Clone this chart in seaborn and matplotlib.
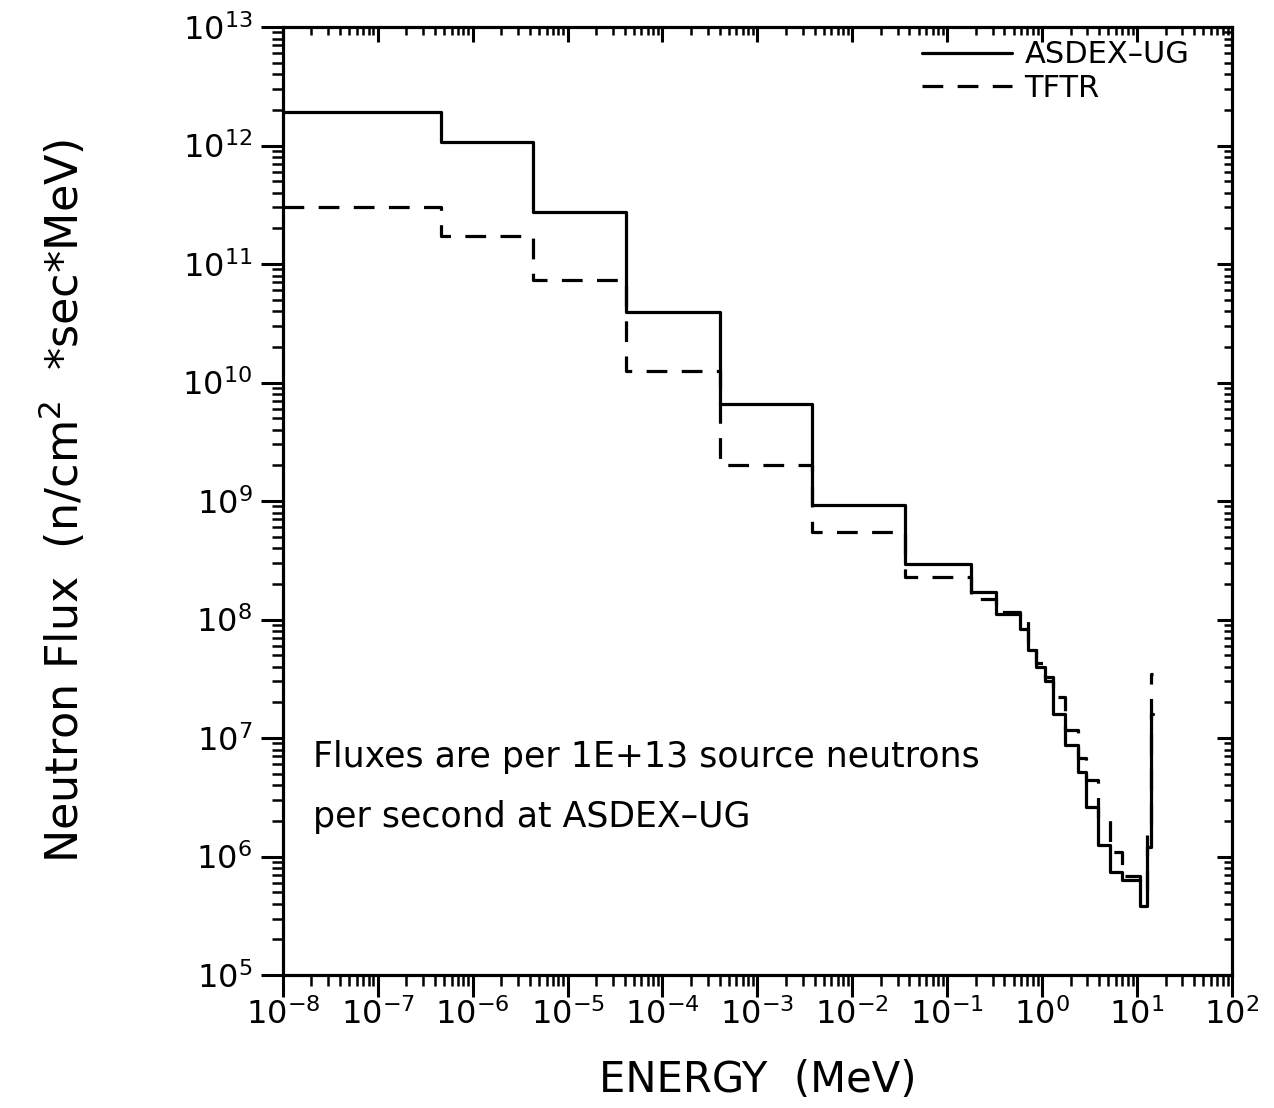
import matplotlib
matplotlib.use("Agg")
import matplotlib.pyplot as plt
import matplotlib.ticker as mticker
import numpy as np
import pandas as pd
import seaborn as sns

# --- Data --------------------------------------------------------------------
# Group boundaries in MeV (steps-post: last edge closes the last group)
energy_edges = [1e-8, 4.6e-7, 4.3e-6, 4.1e-5, 4.0e-4, 3.75e-3, 3.58e-2, 0.18,
                0.33, 0.58, 0.71, 0.87, 1.07, 1.31, 1.74, 2.4, 2.9, 3.9, 5.2,
                6.9, 10.7, 12.6, 14.2, 14.9]
flux_asdex = [1.92e12, 1.07e12, 2.75e11, 3.9e10, 6.6e9, 9.25e8, 2.94e8, 1.72e8,
              1.11e8, 8.4e7, 5.5e7, 4.0e7, 3.0e7, 1.6e7, 8.7e6, 5.2e6, 2.63e6,
              1.25e6, 7.4e5, 6.3e5, 3.8e5, 1.2e6, 1.6e7]
flux_tftr = [3.03e11, 1.72e11, 7.3e10, 1.25e10, 2.01e9, 5.47e8, 2.28e8, 1.5e8,
             1.15e8, 9.9e7, 6.3e7, 4.3e7, 3.3e7, 2.2e7, 1.17e7, 6.8e6, 4.45e6,
             2.17e6, 1.1e6, 6.9e5, 5.2e5, 1.6e6, 3.5e7]
series_names = ["ASDEX\u2013UG", "TFTR"]

# long-form table, last value repeated so the final step is drawn
frames = []
for name, flux in zip(series_names, [flux_asdex, flux_tftr]):
    frames.append(pd.DataFrame({
        "energy": energy_edges,
        "flux": list(flux) + [flux[-1]],
        "source": name,
    }))
df = pd.concat(frames, ignore_index=True)

# --- Style -------------------------------------------------------------------
sns.set_style("white")
plt.rcParams["font.family"] = ["DejaVu Sans"]
plt.rcParams["mathtext.default"] = "regular"
plt.rcParams.update({"text.color": "black", "axes.labelcolor": "black",
                     "xtick.color": "black", "ytick.color": "black",
                     "axes.edgecolor": "black"})

fig = plt.figure(figsize=(12.74, 11.08), dpi=100)
ax = fig.add_axes([0.222, 0.120, 0.745, 0.8556])

sns.lineplot(
    data=df, x="energy", y="flux", style="source", hue="source",
    palette={n: "black" for n in series_names},
    dashes={series_names[0]: "", series_names[1]: (6.5, 4.5)},
    estimator=None, sort=False, drawstyle="steps-post",
    linewidth=2.3, ax=ax,
)

ax.set_xscale("log")
ax.set_yscale("log")
ax.set_xlim(1e-8, 1e2)
ax.set_ylim(1e5, 1e13)

major = dict(base=10, numticks=20)
minor = dict(base=10, subs=np.arange(2, 10), numticks=20)
ax.xaxis.set_major_locator(mticker.LogLocator(**major))
ax.yaxis.set_major_locator(mticker.LogLocator(**major))
ax.xaxis.set_minor_locator(mticker.LogLocator(**minor))
ax.yaxis.set_minor_locator(mticker.LogLocator(**minor))
ax.xaxis.set_minor_formatter(mticker.NullFormatter())
ax.yaxis.set_minor_formatter(mticker.NullFormatter())

# bottom / left ticks point outward
ax.tick_params(axis="both", which="major", direction="out", length=16, width=2.2,
               labelsize=23)
ax.tick_params(axis="x", which="major", pad=1)
ax.tick_params(axis="y", which="major", pad=6)
ax.tick_params(axis="both", which="minor", direction="out", length=8, width=1.8)

# top / right ticks point inward (twin axes, no labels)
ax_top = ax.twiny()
ax_top.set_xscale("log")
ax_top.set_xlim(ax.get_xlim())
ax_top.xaxis.set_major_locator(mticker.LogLocator(**major))
ax_top.xaxis.set_minor_locator(mticker.LogLocator(**minor))
ax_top.tick_params(axis="x", which="major", direction="in", length=11, width=2.2,
                   labeltop=False)
ax_top.tick_params(axis="x", which="minor", direction="in", length=6, width=1.8)

ax_right = ax.twinx()
ax_right.set_yscale("log")
ax_right.set_ylim(ax.get_ylim())
ax_right.yaxis.set_major_locator(mticker.LogLocator(**major))
ax_right.yaxis.set_minor_locator(mticker.LogLocator(**minor))
ax_right.tick_params(axis="y", which="major", direction="in", length=11, width=2.2,
                     labelright=False)
ax_right.tick_params(axis="y", which="minor", direction="in", length=6, width=1.8)
for a in (ax, ax_top, ax_right):
    for s in a.spines.values():
        s.set_linewidth(2.2)
        s.set_color("black")
for a in (ax_top, ax_right):
    a.set_xlabel("")
    a.set_ylabel("")

# --- Labels ------------------------------------------------------------------
ax.set_xlabel("ENERGY  (MeV)", fontsize=30, labelpad=20)
ax.set_ylabel("Neutron Flux  (n/cm$^2$  *sec*MeV)", fontsize=32, labelpad=68)

ax.text(0.0316, 0.2194, "Fluxes are per 1E+13 source neutrons",
        transform=ax.transAxes, fontsize=25, va="baseline", ha="left")
ax.text(0.0316, 0.1561, "per second at ASDEX\u2013UG",
        transform=ax.transAxes, fontsize=25, va="baseline", ha="left")

ax.legend(loc="upper right", bbox_to_anchor=(0.968, 0.999), frameon=False,
          borderaxespad=0, fontsize=22, handlelength=2.95, handletextpad=0.4,
          labelspacing=0.15)

fig.savefig("out.png", dpi=100)
plt.close(fig)
